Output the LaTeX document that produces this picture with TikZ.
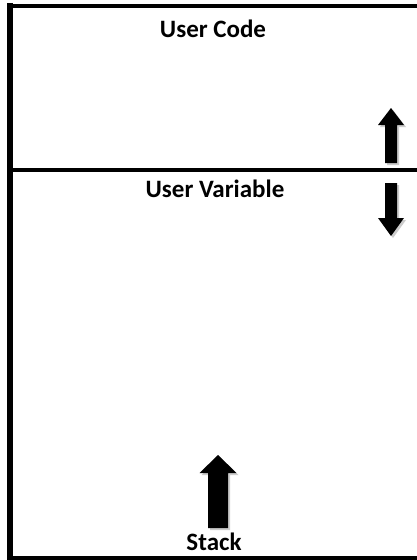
\documentclass[tikz,border=0pt]{standalone}
\usepackage{fontspec}
\setmainfont{Carlito}
\usepackage{tikz}
\usetikzlibrary{positioning}

% block arrow: tip, head length, total length, shaft half width, head half width
\newcommand{\blockarrow}[5]{%
  \foreach \c/\o in {gray!40/2, black/0}{
    \fill[\c, shift={(#1)}, xshift=\o pt, yshift=-\o pt]
      (0,0) -- (#5,#2) -- (#4,#2) -- (#4,#3) -- (-#4,#3) -- (-#4,#2) -- (-#5,#2) -- cycle;
  }}

\tikzset{
  area/.style={font=\fontsize{25}{29}\selectfont\bfseries, anchor=base, inner sep=0pt},
  wall/.style={line width=#1}
}

\begin{document}
\begin{tikzpicture}[x=1pt,y=-1pt]
    \useasboundingbox (0,0) rectangle (417,560);
    \fill[white] (0,0) rectangle (417,560);

    \draw[wall=6pt] (10,3) -- (10,562);
    \draw[wall=4pt] (7,6) -- (417,6);
    \draw[wall=4pt] (13,170) -- (417,170);
    \draw[wall=5pt] (7,558) -- (417,558);

    \node[area] (code) at (213,37) {User Code};
    \node[area] (var) at (215,197) {User Variable};
    \node[area] (stack) at (214,550) {Stack};

    \blockarrow{391,108}{17}{55}{6}{13}
    \blockarrow{391,236}{-18}{-53}{6}{13}
    \blockarrow{218,455}{18}{73}{10}{18.5}
\end{tikzpicture}
\end{document}
